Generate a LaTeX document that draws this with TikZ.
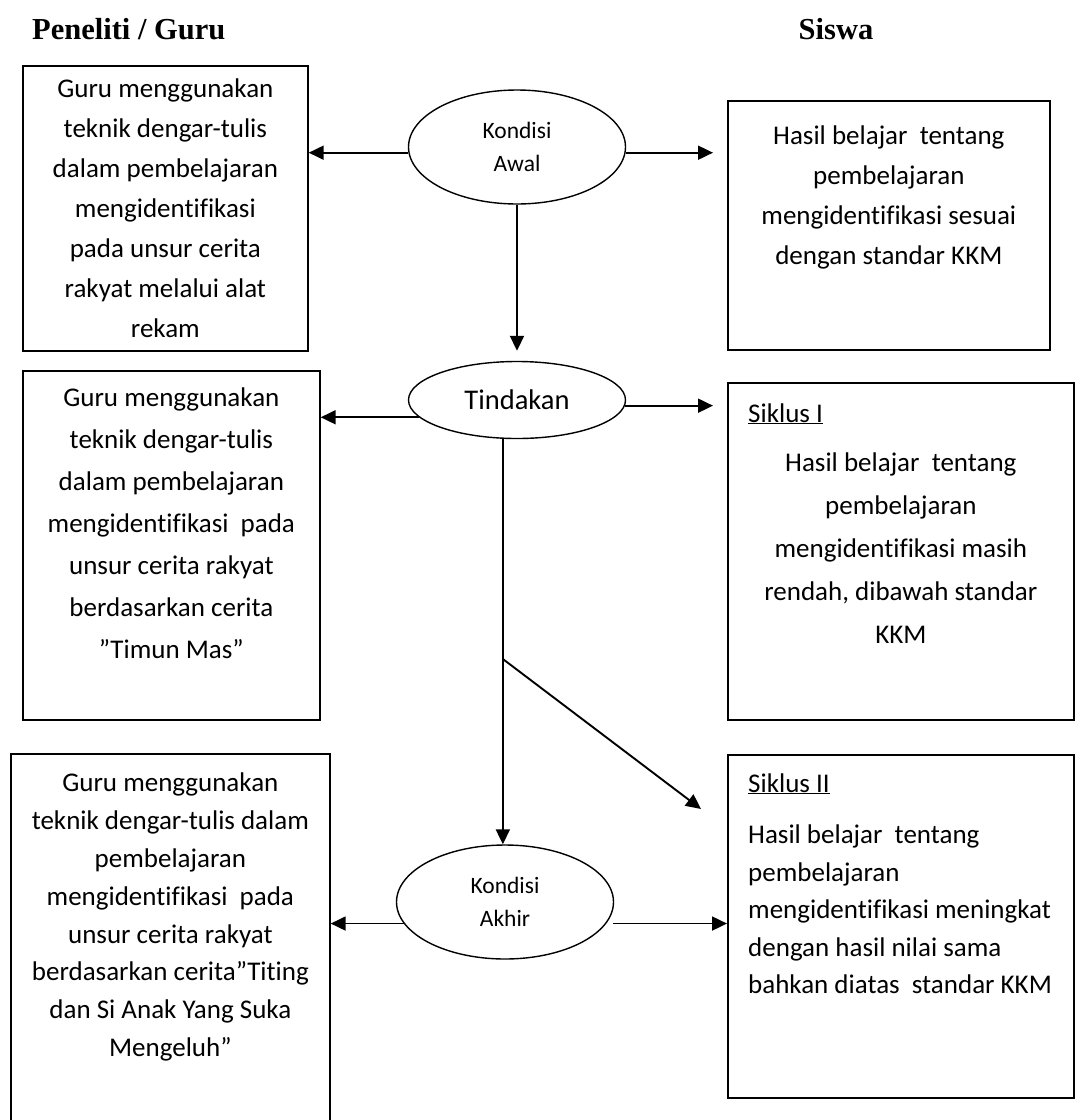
\documentclass[tikz,border=0pt]{standalone}
\usepackage{fontspec}
\setmainfont{Carlito}[Ligatures=NoCommon]
\newfontfamily\headfont{Liberation Serif}
\usepackage{tikz}
\usetikzlibrary{positioning,arrows.meta,shapes.geometric}
\newcommand{\bodyfont}[1]{\fontsize{27}{#1}\selectfont}
\newcommand{\infobox}[5]{%
  \node[box, anchor=north west, minimum width={#4-#2}, minimum height={#5-#3}] (#1) at (#2,#3) {};
}
\tikzset{
  box/.style={draw, line width=1.7pt, inner sep=0pt},
  phase/.style={draw, ellipse, line width=1.4pt, inner sep=0pt, align=center},
  boxtext/.style={inner sep=0pt, align=center},
  head/.style={inner sep=0pt, font=\headfont\bfseries\fontsize{30.5}{36}\selectfont},
  arr/.style={line width=1.9pt, -{Triangle[length=15pt,width=14pt]}},
}

\begin{document}
\begin{tikzpicture}[x=1pt,y=-1pt]
  \useasboundingbox (0,0) rectangle (1075,1120);
  \clip (0,0) rectangle (1075,1120);

  \node[head, anchor=base west] (guru) at (32,39) {Peneliti / Guru};
  \node[head, anchor=base] (siswa) at (836,39) {Siswa};

  \infobox{awalL}{22}{65}{307}{350}
  \infobox{awalR}{727}{100}{1049}{349}
  \infobox{tinL}{22}{370}{319}{719}
  \infobox{tinR}{727}{382}{1073}{719}
  \infobox{akhL}{10}{753}{329}{1130}
  \infobox{akhR}{727}{754}{1073}{1097}

  \node[phase, minimum width=217, minimum height=114, font=\fontsize{23.5}{33}\selectfont] (awal) at (517,147) {Kondisi\\Awal};
  \node[phase, minimum width=217, minimum height=77, font=\fontsize{28.5}{34}\selectfont] (tin) at (517,400) {Tindakan};
  \node[phase, minimum width=217, minimum height=114, font=\fontsize{23.5}{33}\selectfont] (akh) at (505,902) {Kondisi\\Akhir};

  \node[boxtext, font=\bodyfont{40}, below=14pt of awalL.north] (awalLtext)
    {Guru menggunakan\\teknik dengar-tulis\\dalam pembelajaran\\mengidentifikasi\\pada unsur cerita\\rakyat melalui alat\\rekam};
  \node[boxtext, font=\bodyfont{40}, below=26pt of awalR.north] (awalRtext)
    {Hasil belajar \ tentang\\pembelajaran\\mengidentifikasi sesuai\\dengan standar KKM};
  \node[boxtext, font=\bodyfont{42}, below=18pt of tinL.north] (tinLtext)
    {Guru menggunakan\\teknik dengar-tulis\\dalam pembelajaran\\mengidentifikasi \ pada\\unsur cerita rakyat\\berdasarkan cerita\\”Timun Mas”};
  \node[anchor=base west, inner sep=0pt, font=\bodyfont{33}] (sik1) at (748,422) {\underline{Siklus I}};
  \node[boxtext, font=\bodyfont{43}, below=71pt of tinR.north] (tinRtext)
    {Hasil belajar \ tentang\\pembelajaran\\mengidentifikasi masih\\rendah, dibawah standar\\KKM};
  \node[boxtext, font=\bodyfont{37.8}, below=20pt of akhL.north] (akhLtext)
    {Guru menggunakan\\teknik dengar-tulis dalam\\pembelajaran\\mengidentifikasi \ pada\\unsur cerita rakyat\\berdasarkan cerita”Titing\\dan Si Anak Yang Suka\\Mengeluh”};
  \node[anchor=base west, inner sep=0pt, font=\bodyfont{33}] (sik2) at (748,792) {\underline{Siklus II}};
  \node[boxtext, align=left, anchor=north west, font=\bodyfont{37.5}] (akhRtext) at (748,825)
    {Hasil belajar \ tentang\\pembelajaran\\mengidentifikasi meningkat\\dengan hasil nilai sama\\bahkan diatas \ standar KKM};

  \draw[arr] (awal.183) -- (awal.183 -| awalL.east);
  \draw[arr, shorten >=14pt] (awal.357) -- (awal.357 -| awalR.west);
  \draw[arr, shorten >=10pt] (awal.south) -- (tin.north);
  \draw[arr] (tin.190) -- (tin.190 -| tinL.east);
  \draw[arr, shorten >=14pt] (tin.357) -- (tin.357 -| tinR.west);
  \draw[arr] (tin.250) -- (tin.250 |- akh.north);
  \coordinate (fork) at (tin.250 |- 0,659);
  \coordinate (diagend) at (701,809);
  \draw[arr] (fork) -- (diagend);
  \draw[arr] (akh.192) -- (akh.192 -| akhL.east);
  \draw[arr, shorten <=7pt] (akh.348) -- (akh.348 -| akhR.west);
\end{tikzpicture}
\end{document}
